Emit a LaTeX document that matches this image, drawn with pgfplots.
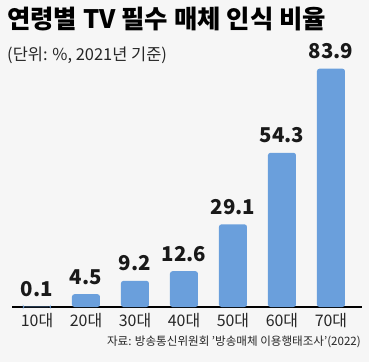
\documentclass[border=0pt]{standalone}
\usepackage{pgfplots}
\pgfplotsset{compat=1.18}
\usepackage{fontspec}
\setmainfont{Noto Sans CJK KR}
\definecolor{barblue}{HTML}{6A9FDC}
\definecolor{bg}{HTML}{F6F6F6}
\begin{document}
\begin{tikzpicture}[x=1bp,y=1bp]
\fill[bg] (0,0) rectangle (369,362);
\node[anchor=west,inner sep=0] at (7,343) {\fontsize{25.5}{25.5}\selectfont\bfseries 연령별 TV 필수 매체 인식 비율};
\node[anchor=west,inner sep=0] at (7,307) {\fontsize{16.5}{16.5}\selectfont\color{black!85}(단위: \%, 2021년 기준)};
\node[anchor=east,inner sep=0] at (361,20) {\fontsize{11.6}{11.6}\selectfont\color{black!85}자료: 방송통신위원회 '방송매체 이용행태조사'(2022)};
\begin{axis}[
  at={(12bp,55bp)}, anchor=south west,
  scale only axis, width=350bp, height=298.2bp,
  xmin=-0.51, xmax=6.633, ymin=0, ymax=105,
  axis x line=bottom, axis y line=none,
  x axis line style={-, black, line width=1.2bp},
  xtick=data, xticklabels={10대,20대,30대,40대,50대,60대,70대},
  major tick length=0, ytick=\empty,
  xticklabel style={font=\fontsize{16}{16}\selectfont, text=black!85, yshift=-3bp},
  clip=false,
  ybar, bar width=28bp,
  nodes near coords,
  every node near coord/.append style={anchor=base, yshift=10bp, font=\fontsize{20.5}{20.5}\selectfont\bfseries, text=black!90,
    /pgf/number format/fixed, /pgf/number format/precision=1, /pgf/number format/fixed zerofill, /pgf/number format/assume math mode=true},
]
\addplot[fill=barblue, draw=none, rounded corners=2.5bp] coordinates {(0,0.1) (1,4.5) (2,9.2) (3,12.6) (4,29.1) (5,54.3) (6,83.9)};
\end{axis}
\end{tikzpicture}
\end{document}
